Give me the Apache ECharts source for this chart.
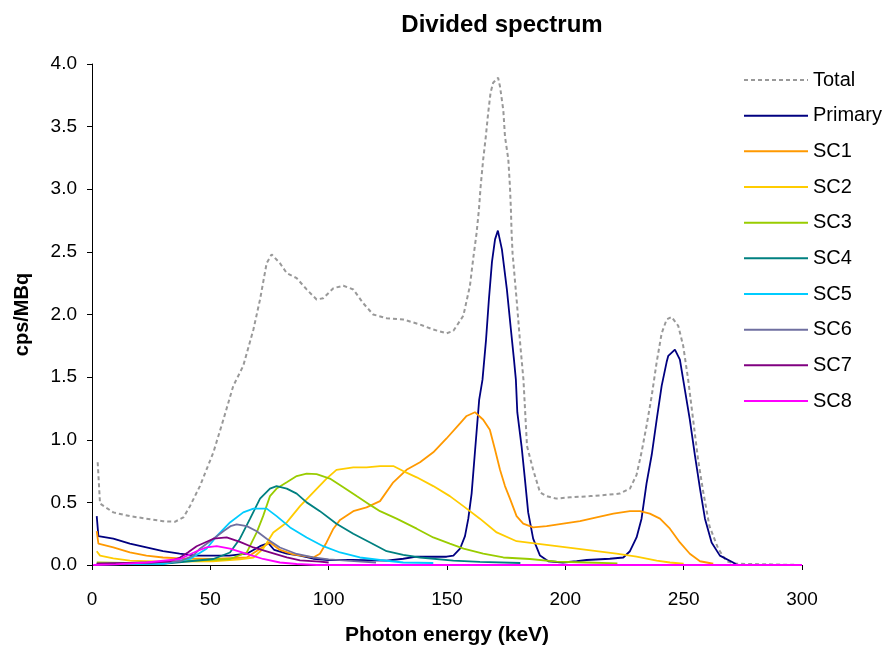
<!DOCTYPE html>
<html>
<head>
<meta charset="utf-8">
<script src="https://cdn.jsdelivr.net/npm/echarts@6/dist/echarts.min.js"></script>
<style>html,body{margin:0;padding:0;background:#fff}#c{width:889px;height:651px}</style>
</head>
<body>
<div id="c"></div>
<script>
// [energy keV, cps/MBq]
const total = [[2.4,0.82],[3.4,0.49],[9,0.42],[16,0.39],[23,0.37],[30,0.35],[35,0.345],[38.6,0.38],[41.4,0.47],[45.6,0.63],[51.3,0.90],[55.5,1.16],[59.7,1.43],[63.9,1.59],[68.2,1.88],[71,2.12],[73.8,2.41],[75.9,2.48],[79.4,2.41],[82.3,2.33],[86.5,2.29],[90.7,2.20],[94.9,2.12],[97.7,2.13],[102,2.21],[106.2,2.23],[110.4,2.20],[114.6,2.09],[118.8,2.0],[124.5,1.97],[131.5,1.96],[138.6,1.92],[144.2,1.88],[149.8,1.85],[152.7,1.87],[156.9,1.99],[159.7,2.23],[161.1,2.45],[162.5,2.65],[163.5,2.84],[164.2,3.02],[165.3,3.24],[166.4,3.42],[167.4,3.61],[168.4,3.77],[169.5,3.85],[171.6,3.89],[172.4,3.82],[173.8,3.63],[174.5,3.42],[175.9,3.24],[176.6,3.02],[177,2.84],[177.3,2.65],[177.7,2.49],[179.5,2.1],[181,1.75],[182.3,1.48],[183.8,0.95],[186.4,0.76],[189.3,0.58],[192.1,0.55],[196.3,0.53],[202,0.54],[210.4,0.55],[217.4,0.56],[223,0.57],[227.3,0.61],[230.1,0.72],[232.2,0.90],[234.3,1.11],[236.5,1.35],[238.6,1.62],[240.7,1.85],[242.8,1.96],[244.9,1.98],[247.7,1.91],[249.8,1.75],[251.9,1.48],[254,1.16],[256.1,0.84],[258.3,0.58],[260.9,0.31],[264.6,0.13],[268.1,0.03],[272.4,0.01],[300,0]];
const primary = [[2,0.39],[2.7,0.23],[9,0.21],[16,0.17],[23,0.14],[30,0.11],[37,0.09],[44,0.075],[51,0.075],[58,0.075],[65.4,0.09],[71,0.15],[74.5,0.175],[77,0.12],[82.3,0.09],[87.9,0.075],[93.5,0.05],[100,0.04],[110,0.04],[124.5,0.035],[131.5,0.05],[137.2,0.066],[149.8,0.066],[152.7,0.075],[155.5,0.13],[157.6,0.23],[159,0.37],[160.4,0.57],[161.8,0.90],[163.6,1.32],[165,1.48],[166.5,1.80],[167.7,2.12],[169,2.42],[170.3,2.60],[171.5,2.67],[173.2,2.52],[175.3,2.2],[177,1.88],[178.3,1.64],[179.1,1.48],[179.7,1.22],[181.5,0.95],[182.9,0.69],[184.3,0.42],[186.4,0.21],[189.3,0.075],[192.8,0.03],[199,0.02],[204.8,0.03],[209,0.04],[218.8,0.05],[224.5,0.06],[227.3,0.11],[230.1,0.22],[232.2,0.37],[234.3,0.65],[236.5,0.88],[238.6,1.16],[240.7,1.43],[242.8,1.62],[243.5,1.67],[246.3,1.72],[248.4,1.64],[250.5,1.40],[252.6,1.16],[254.8,0.87],[256.9,0.61],[259,0.37],[261.8,0.18],[265.3,0.075],[270.9,0.02],[272.5,0]];
const sc1 = [[2,0.27],[2.7,0.17],[9,0.14],[16,0.10],[23,0.075],[30,0.06],[37,0.053],[51,0.048],[65.4,0.06],[71,0.13],[75.2,0.18],[79.4,0.12],[85,0.085],[93.5,0.06],[96.3,0.09],[99.1,0.18],[102,0.29],[104.8,0.36],[110.4,0.43],[116,0.46],[121.7,0.51],[127.3,0.66],[132.9,0.76],[138.6,0.82],[144.2,0.90],[149.8,1.01],[155.5,1.13],[158.3,1.19],[161.8,1.22],[165.3,1.16],[168.1,1.08],[170.3,0.92],[172.4,0.76],[174.5,0.63],[176.6,0.53],[179.4,0.39],[182.2,0.33],[186.4,0.30],[192.1,0.31],[199.1,0.33],[206.2,0.35],[213.2,0.38],[220.3,0.41],[227.3,0.43],[231.5,0.43],[235.7,0.41],[240,0.37],[244.2,0.29],[248.4,0.18],[252.6,0.09],[256.9,0.03],[262.5,0.01]];
const sc2 = [[2,0.11],[3.4,0.075],[9,0.053],[16,0.035],[30,0.027],[51,0.03],[62.5,0.045],[68.2,0.06],[72.3,0.13],[76.6,0.26],[82.3,0.34],[87.9,0.47],[93.5,0.58],[99.1,0.69],[103.3,0.76],[110.4,0.78],[116,0.78],[121.7,0.79],[127.3,0.79],[131.5,0.75],[137.2,0.70],[144.2,0.63],[151.2,0.55],[156.9,0.47],[163.9,0.37],[171,0.26],[179.4,0.19],[187.8,0.17],[196.3,0.15],[204.8,0.13],[213.2,0.11],[221.6,0.09],[230.1,0.066],[238.6,0.035],[244.2,0.02],[250,0.01]];
const sc3 = [[2,0.02],[20,0.015],[37,0.03],[58.3,0.048],[65.4,0.10],[69.6,0.26],[72.3,0.39],[75.2,0.55],[78,0.61],[82.3,0.66],[86.5,0.71],[90.7,0.73],[94.9,0.725],[100.5,0.69],[106.2,0.62],[111.8,0.55],[117.5,0.48],[121.7,0.43],[128.7,0.37],[137.2,0.29],[144.2,0.22],[151.2,0.17],[157,0.13],[165.3,0.09],[173.8,0.06],[185,0.048],[196.3,0.027],[209,0.02],[222,0.013]];
const sc4 = [[2,0.005],[30,0.01],[51.3,0.048],[58.3,0.10],[62.5,0.21],[66.8,0.37],[71,0.53],[75.2,0.61],[78,0.63],[82.3,0.61],[86.5,0.57],[90.7,0.50],[96.3,0.43],[103.3,0.33],[110.4,0.25],[117.5,0.18],[124.5,0.11],[131.5,0.08],[138.6,0.06],[152.7,0.035],[163.9,0.025],[181,0.016]];
const sc5 = [[2,0.005],[30,0.01],[41.4,0.048],[48.4,0.13],[52.7,0.23],[58.3,0.34],[63.9,0.42],[68.2,0.45],[73.8,0.45],[78,0.39],[83.7,0.30],[90.7,0.22],[97.7,0.15],[104.8,0.10],[113.2,0.06],[121.7,0.04],[131.5,0.02],[144.2,0.016]];
const sc6 = [[2,0.01],[25,0.02],[37.2,0.03],[42.8,0.075],[45.6,0.13],[51.3,0.21],[55.5,0.27],[58.5,0.31],[61.1,0.325],[65.4,0.31],[69.6,0.27],[73.8,0.21],[79.4,0.14],[86.5,0.088],[93.5,0.06],[100,0.045],[107.6,0.035],[120,0.02]];
const sc7 = [[2,0.01],[25,0.02],[33,0.03],[37.2,0.06],[40.5,0.10],[44.2,0.15],[51.3,0.21],[56.9,0.22],[62.5,0.185],[68.2,0.14],[75.2,0.10],[82.3,0.06],[87.9,0.037],[96.3,0.027],[100,0.02]];
const sc8 = [[0.5,0],[10,0.005],[23,0.02],[37.2,0.048],[44.2,0.11],[48.4,0.14],[52.7,0.15],[58.3,0.13],[65.4,0.088],[72.3,0.048],[79.4,0.02],[86.5,0.008],[95,0],[300,0]];

const seriesNames = ['Total','Primary','SC1','SC2','SC3','SC4','SC5','SC6','SC7','SC8'];
const seriesData = [total, primary, sc1, sc2, sc3, sc4, sc5, sc6, sc7, sc8];
const colors = ['#999999','#000080','#FF9900','#FFCC00','#99CC00','#008080','#00CCFF','#6F6FA0','#800080','#FF00FF'];

const font = 'Liberation Sans, Arial, sans-serif';
const chart = echarts.init(document.getElementById('c'));
chart.setOption({
  animation: false,
  backgroundColor: '#fff',
  title: {
    text: 'Divided spectrum',
    left: 497, textAlign: 'center', top: 8,
    textStyle: {fontFamily: font, fontSize: 24, fontWeight: 'bold', color: '#000'}
  },
  legend: {
    orient: 'vertical', left: 743, top: 70, padding: 0,
    itemWidth: 64, itemHeight: 20, itemGap: 15.67,
    itemStyle: {color: 'rgba(0,0,0,0)', borderWidth: 0, opacity: 0},
    textStyle: {fontFamily: font, fontSize: 20, color: '#000', lineHeight: 20},
    data: seriesNames
  },
  grid: {left: 92, right: 87, top: 64, bottom: 85},
  xAxis: {
    type: 'value', min: 0, max: 300, interval: 50,
    name: 'Photon energy (keV)', nameLocation: 'middle', nameGap: 60,
    nameTextStyle: {fontFamily: font, fontSize: 21, fontWeight: 'bold', color: '#000'},
    axisLine: {show: true, lineStyle: {color: '#000', width: 1}},
    axisTick: {show: true, inside: false, length: 5, lineStyle: {color: '#000'}},
    axisLabel: {fontFamily: font, fontSize: 19, color: '#000', margin: 25},
    splitLine: {show: false}
  },
  yAxis: {
    type: 'value', min: 0, max: 4, interval: 0.5,
    name: 'cps/MBq', nameLocation: 'middle', nameRotate: 90, nameGap: 60,
    nameTextStyle: {fontFamily: font, fontSize: 20, fontWeight: 'bold', color: '#000'},
    axisLine: {show: true, lineStyle: {color: '#000', width: 1}},
    axisTick: {show: true, inside: false, length: 5, lineStyle: {color: '#000'}},
    axisLabel: {fontFamily: font, fontSize: 19, color: '#000', margin: 15, formatter: v => v.toFixed(1)},
    splitLine: {show: false}
  },
  series: seriesNames.map((n, i) => ({
    name: n, type: 'line', data: seriesData[i], symbol: 'none', clip: true,
    lineStyle: {color: colors[i], width: i === 0 ? 2 : 1.8, type: i === 0 ? [4, 3] : 'solid'},
    itemStyle: {color: colors[i]},
    z: 2 + i
  }))
});
</script>
</body>
</html>
